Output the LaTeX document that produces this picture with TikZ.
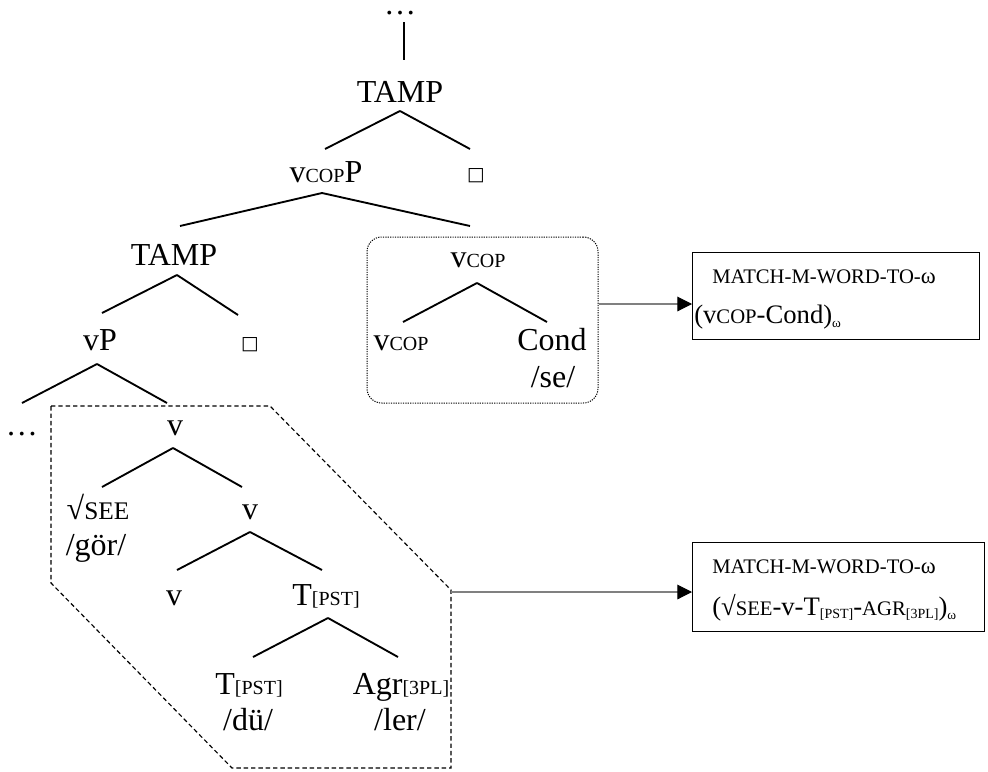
\documentclass[tikz,border=0pt]{standalone}
\usepackage{fontspec}
\setmainfont{Liberation Serif}
\newfontfamily\symfont{DejaVu Sans}
\usetikzlibrary{calc,arrows.meta}
\newcommand\tsub[1]{{\fontsize{15}{15}\selectfont #1}}
\newcommand\bsc[1]{{\fontsize{15.5}{18}\selectfont #1}}
\newcommand\bsub[1]{\raisebox{-2.5pt}{\fontsize{10.5}{12}\selectfont #1}}
\newcommand\wsub{\raisebox{-3pt}{\fontsize{10}{12}\selectfont ω}}
\newcommand\emptysq{{\symfont\fontsize{14}{14}\selectfont □}}
\newcommand\tedge[4]{\draw[edge] ($(#1.base)+(#2)$) -- ($(#3.base)+(#4)$);}
\begin{document}
\begin{tikzpicture}[x=0.75pt,y=-0.75pt,
  tn/.style={font=\fontsize{24}{28}\selectfont, inner sep=0pt, anchor=base},
  edge/.style={line width=1.4pt},
  bt/.style={font=\fontsize{20}{24}\selectfont, inner sep=0pt, anchor=base west},
  rbox/.style={draw, line width=0.8pt, inner sep=0pt, anchor=north west},
  garr/.style={draw=black!50, line width=0.8pt, -{Triangle[length=11pt,width=11pt,color=black]}},
  hexline/.style={line width=0.85pt, dash pattern=on 3.3pt off 2.2pt},
  dotline/.style={line width=0.75pt, dash pattern=on 0.9pt off 0.9pt}]
\useasboundingbox (0,0) rectangle (988,771);

% tree nodes
\node[tn, text height=4pt] (dots0) at (400,14) {…};
\node[tn] (tamp1) at (400,102) {TAMP};
\node[tn] (vcopp) at (326,182) {v\tsub{COP}P};
\node[tn] (sq1) at (476,180) {\emptysq};
\node[tn] (tamp2) at (174,265) {TAMP};
\node[tn] (vcopt) at (478,267) {v\tsub{COP}};
\node[tn] (vp) at (100,350) {vP};
\node[tn] (sq2) at (250,349) {\emptysq};
\node[tn] (vcopl) at (401,350) {v\tsub{COP}};
\node[tn] (cond) at (552,350) {Cond};
\node[tn] (se) at (553,387) {/se/};
\node[tn] (dots1) at (22,435) {…};
\node[tn] (v1) at (175,435) {v};
\node[tn] (see) at (98,519) {√{\fontsize{19}{20}\selectfont SEE}};
\node[tn] (gor) at (96,555) {/gör/};
\node[tn] (v2) at (250,519) {v};
\node[tn] (v3) at (174,605) {v};
\node[tn] (tpst) at (326,605) {T\tsub{[PST]}};
\node[tn] (tpstl) at (249,694) {T\tsub{[PST]}};
\node[tn] (agr) at (401,694) {Agr\tsub{[3PL]}};
\node[tn] (du) at (248,730) {/dü/};
\node[tn] (ler) at (400,730) {/ler/};

% tree edges
\draw[edge] ($(dots0.base)+(4,8)$) -- ($(tamp1.base)+(4,-42)$);
\tedge{tamp1}{0,9}{vcopp}{-1,-33}
\tedge{tamp1}{0,9}{sq1}{-6,-31}
\tedge{vcopp}{-4,11}{tamp2}{6,-39}
\tedge{vcopp}{-4,11}{vcopt}{-8,-41}
\tedge{tamp2}{3,10}{vp}{2,-37}
\tedge{tamp2}{3,10}{sq2}{-12,-34}
\tedge{vp}{-3,14}{dots1}{0,-32}
\tedge{vp}{-3,14}{v1}{-8,-32}
\tedge{vcopt}{-1,16}{vcopl}{2,-28}
\tedge{vcopt}{-1,16}{cond}{-5,-28}
\tedge{v1}{-2,13}{see}{4,-32}
\tedge{v1}{-2,13}{v2}{-8,-32}
\tedge{v2}{0,13}{v3}{3,-35}
\tedge{v2}{0,13}{tpst}{-4,-35}
\tedge{tpst}{2,13}{tpstl}{4,-37}
\tedge{tpst}{2,13}{agr}{-3,-37}

% grouping outlines
\node[draw, dotline, rounded corners=11pt, minimum width=173.25pt, minimum height=124.5pt, inner sep=0pt] (dotbox) at (482.5,320) {};
\draw[hexline] (51,406) -- (270,406) -- (451,590) -- (451,768) -- (232,768) -- (51,583) -- cycle;
\coordinate (hexr) at (451,592);

% constraint boxes
\node[rbox, minimum width=215.25pt, minimum height=65.25pt] (rb1) at (692,252) {};
\node[rbox, minimum width=219pt, minimum height=66.75pt] (rb2) at (692,542) {};
\node[bt] (t1a) at (712,283) {\bsc{MATCH-M-WORD-TO-}{\fontsize{17}{20}\selectfont ω}};
\node[bt] (t1b) at (694,323) {(v\bsc{COP}-Cond)\wsub};
\node[bt] (t2a) at (712,573) {\bsc{MATCH-M-WORD-TO-}{\fontsize{17}{20}\selectfont ω}};
\node[bt] (t2b) at (712,615) {(√\bsc{SEE}-v-T\bsub{[PST]}-\bsc{AGR}\bsub{[3PL]})\wsub};

% arrows
\coordinate (a1s) at (599,304);
\draw[garr] (a1s) -- (a1s -| rb1.west);
\draw[garr] (hexr) -- (hexr -| rb2.west);
\end{tikzpicture}
\end{document}
